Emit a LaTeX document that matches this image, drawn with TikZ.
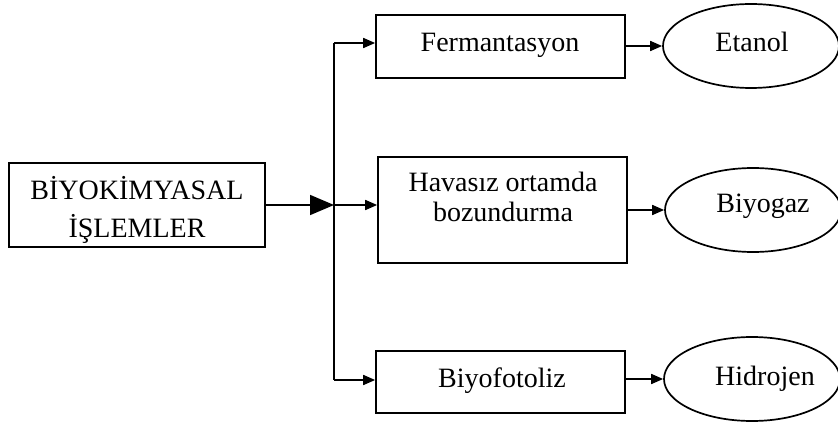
\documentclass[tikz,border=0pt]{standalone}
\usepackage{fontspec}
\setmainfont{Liberation Serif}
\usetikzlibrary{arrows.meta,shapes.geometric}
\begin{document}
\begin{tikzpicture}[x=1pt,y=-1pt,
  line width=1.7pt,
  boxnode/.style={draw,rectangle,inner sep=0pt},
  ovalnode/.style={draw,ellipse,inner sep=0pt,minimum width=176pt,minimum height=84pt},
  txt/.style={anchor=base,inner sep=0pt,font=\fontsize{28}{32}\selectfont},
  arr/.style={-{Triangle[length=12pt,width=10pt]}},
  bigarr/.style={-{Triangle[length=24pt,width=20pt]}}]
\useasboundingbox (0,0) rectangle (838,422);
% boxes
\node[boxnode,minimum width=256pt,minimum height=84pt] (lbox) at (137,205) {};
\node[boxnode,minimum width=249pt,minimum height=63pt] (fbox) at (500.5,46.5) {};
\node[boxnode,minimum width=249pt,minimum height=106pt] (mbox) at (502.5,210) {};
\node[boxnode,minimum width=249pt,minimum height=62pt] (bbox) at (500.5,382) {};
% ellipses
\node[ovalnode] (etanol) at (751,46) {};
\node[ovalnode] (biyogaz) at (753,210) {};
\node[ovalnode] (hidrojen) at (752,379) {};
% texts
\node[txt] (lt1) at (137,200) {BİYOKİMYASAL};
\node[txt] (lt2) at (137,238) {İŞLEMLER};
\node[txt] (ft) at (500,52) {Fermantasyon};
\node[txt] (mt1) at (503,192) {Havasız ortamda};
\node[txt] (mt2) at (503,222) {bozundurma};
\node[txt] (bt) at (502,387) {Biyofotoliz};
\node[txt] (et) at (752,52) {Etanol};
\node[txt] (gt) at (763,213) {Biyogaz};
\node[txt] (ht) at (765,385) {Hidrojen};
% split coordinates
\coordinate (s1) at (334,43);
\coordinate (s2) at (334,205);
\coordinate (s3) at (334,380);
% connectors
\draw (s1) -- (s3);
\draw[bigarr] (lbox.east |- s2) -- (s2);
\draw[arr] (s1) -- (s1 -| fbox.west);
\draw[arr] (s2) -- (s2 -| mbox.west);
\draw[arr] (s3) -- (s3 -| bbox.west);
\draw[arr] (fbox.east |- etanol.west) -- (etanol.west);
\draw[arr] (mbox.east |- biyogaz.west) -- (biyogaz.west);
\draw[arr] (bbox.east |- hidrojen.west) -- (hidrojen.west);
\end{tikzpicture}
\end{document}
